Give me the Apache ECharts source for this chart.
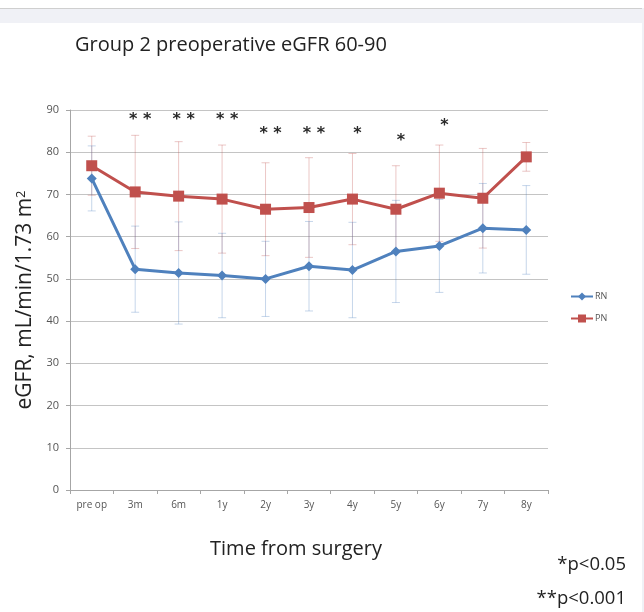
<!DOCTYPE html>
<html>
<head>
<meta charset="utf-8">
<script src="https://cdn.jsdelivr.net/npm/echarts@6/dist/echarts.min.js"></script>
<style>
  html, body { margin: 0; padding: 0; background: #fff; }
  #chart { width: 644px; height: 612px; }
</style>
</head>
<body>
<div id="chart"></div>
<script>
// 时间点
const categories = ['pre op', '3m', '6m', '1y', '2y', '3y', '4y', '5y', '6y', '7y', '8y']
// RN 均值 / 标准差
const rnMean = [73.8, 52.3, 51.4, 50.8, 50.0, 53.0, 52.1, 56.5, 57.8, 62.0, 61.6]
const rnSd = [7.7, 10.2, 12.1, 10.0, 8.9, 10.6, 11.3, 12.1, 11.0, 10.6, 10.5]
// PN 均值 / 标准差
const pnMean = [76.8, 70.6, 69.6, 68.9, 66.5, 66.9, 68.9, 66.5, 70.3, 69.1, 78.9]
const pnSd = [7.0, 13.4, 12.9, 12.8, 11.0, 11.8, 10.8, 10.3, 11.4, 11.8, 3.4]
// 显著性标记
const sigMarks = ['', '* *', '* *', '* *', '* *', '* *', '*', '*', '*', '', '']
const sigLevel = [null, 88.3, 88.3, 88.3, 85.1, 85.1, 85.1, 83.5, 86.9, null, null]
const yTicks = [0, 10, 20, 30, 40, 50, 60, 70, 80, 90]

const BLUE = '#4F81BD'
const RED = '#C0504D'

// 误差线
function errorSeries(name, mean, sd, color) {
  return {
    name: name + ' err',
    type: 'custom',
    z: 1,
    silent: true,
    data: mean.map((m, i) => [i, m - sd[i], m + sd[i]]),
    renderItem: (params, api) => {
      const lo = api.coord([api.value(0), api.value(1)])
      const hi = api.coord([api.value(0), api.value(2)])
      const w = 4
      const style = { stroke: color, lineWidth: 1 }
      return {
        type: 'group',
        children: [
          { type: 'line', shape: { x1: hi[0], y1: hi[1], x2: lo[0], y2: lo[1] }, style },
          { type: 'line', shape: { x1: hi[0] - w, y1: hi[1], x2: hi[0] + w, y2: hi[1] }, style },
          { type: 'line', shape: { x1: lo[0] - w, y1: lo[1], x2: lo[0] + w, y2: lo[1] }, style },
        ],
      }
    },
  }
}

// 星号标注
const sigData = []
sigLevel.forEach((v, i) => {
  if (v !== null)
    sigData.push([i, v, sigMarks[i]])
})

const chart = echarts.init(document.getElementById('chart'))

chart.setOption({
  animation: false,
  backgroundColor: '#fff',
  title: {
    text: 'Group 2 preoperative eGFR 60-90',
    left: 70,
    top: 30,
    textStyle: { fontFamily: 'Open Sans', fontSize: 20, fontWeight: 'normal', color: '#222' },
  },
  legend: {
    orient: 'vertical',
    left: 565,
    top: 287,
    itemWidth: 22,
    itemHeight: 10,
    itemGap: 13,
    data: ['RN', 'PN'],
    textStyle: { fontFamily: 'Open Sans', fontSize: 9, color: '#555', padding: [0, 0, 0, -3] },
  },
  grid: { left: 70, right: 96, top: 110, bottom: 122 },
  xAxis: {
    type: 'category',
    data: categories,
    boundaryGap: true,
    name: 'Time from surgery',
    nameLocation: 'middle',
    nameGap: 49,
    nameTextStyle: { fontFamily: 'Open Sans', fontSize: 20, color: '#222', padding: [0, 26, 0, 0] },
    axisLine: { lineStyle: { color: '#a6a6a6' } },
    axisTick: { show: true, length: 4, lineStyle: { color: '#a6a6a6' } },
    axisLabel: { fontFamily: 'Open Sans', fontSize: 10, color: '#555', margin: 10 },
  },
  yAxis: {
    type: 'value',
    min: yTicks[0],
    max: yTicks[yTicks.length - 1],
    interval: 10,
    name: 'eGFR, mL/min/1.73 m{sup|2}',
    nameLocation: 'middle',
    nameGap: 34,
    nameTextStyle: {
      fontFamily: 'Open Sans',
      fontSize: 21,
      color: '#222',
      rich: {
        sup: { fontFamily: 'Open Sans', fontSize: 13, color: '#222', verticalAlign: 'top', padding: [0, 0, 8, 0] },
      },
    },
    axisLine: { show: true, lineStyle: { color: '#a6a6a6' } },
    axisTick: { show: true, length: 4, lineStyle: { color: '#a6a6a6' } },
    splitLine: { lineStyle: { color: '#c4c4c4' } },
    axisLabel: { fontFamily: 'Open Sans', fontSize: 11, color: '#555', margin: 11 },
  },
  series: [
    errorSeries('PN', pnMean, pnSd, 'rgba(192,80,77,0.32)'),
    errorSeries('RN', rnMean, rnSd, 'rgba(79,129,189,0.32)'),
    {
      name: 'RN',
      type: 'line',
      z: 3,
      data: rnMean,
      color: BLUE,
      symbol: 'diamond',
      symbolSize: 10,
      lineStyle: { width: 3, color: BLUE },
      itemStyle: { color: BLUE },
    },
    {
      name: 'PN',
      type: 'line',
      z: 4,
      data: pnMean,
      color: RED,
      symbol: 'rect',
      symbolSize: 11,
      lineStyle: { width: 3, color: RED },
      itemStyle: { color: RED },
    },
    {
      name: 'sig',
      type: 'custom',
      silent: true,
      z: 5,
      data: sigData,
      renderItem: (params, api) => {
        const p = api.coord([api.value(0), api.value(1)])
        return {
          type: 'text',
          x: p[0] + 5,
          y: p[1] + 3,
          style: {
            text: sigData[params.dataIndex][2],
            fontFamily: 'DejaVu Sans',
            fontSize: 16,
            fontWeight: 'bold',
            fill: '#2a2a2a',
            align: 'center',
            verticalAlign: 'middle',
          },
        }
      },
    },
  ],
  graphic: [
    { type: 'rect', shape: { x: 0, y: 8, width: 644, height: 15 }, style: { fill: '#f0f1f6' }, silent: true },
    { type: 'line', shape: { x1: 0, y1: 8.5, x2: 644, y2: 8.5 }, style: { stroke: '#cfcfcf', lineWidth: 1 }, silent: true },
    { type: 'rect', shape: { x: 642, y: 8, width: 2, height: 604 }, style: { fill: '#f0f1f6' }, silent: true },
    {
      type: 'text',
      right: 18,
      top: 555,
      style: { text: '*p<0.05', fontFamily: 'Open Sans', fontSize: 18.5, fill: '#222', textAlign: 'right' },
    },
    {
      type: 'text',
      right: 18,
      top: 589,
      style: { text: '**p<0.001', fontFamily: 'Open Sans', fontSize: 18.5, fill: '#222', textAlign: 'right' },
    },
  ],
})
</script>
</body>
</html>
